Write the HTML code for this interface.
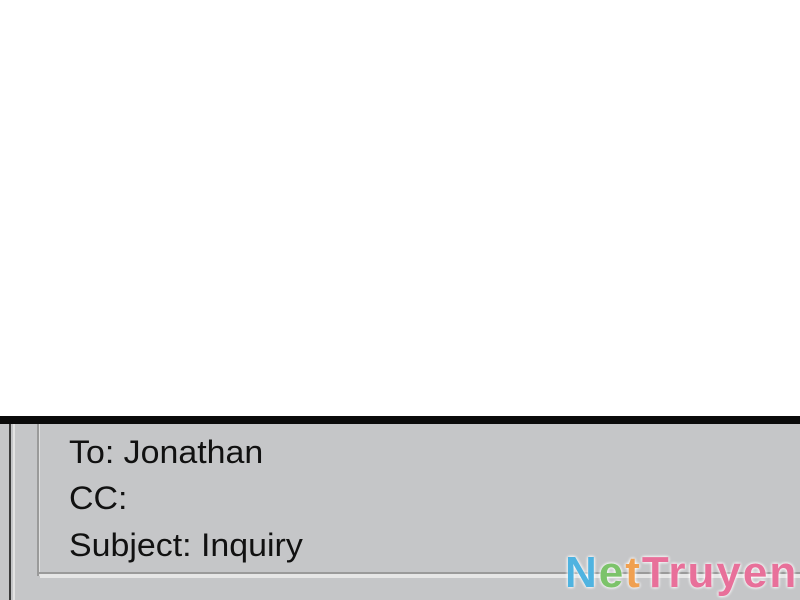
<!DOCTYPE html>
<html><head><style>
body{margin:0;width:800px;height:600px;overflow:hidden;background:#fff;position:relative;font-family:"Liberation Sans",sans-serif}
.bar{position:absolute;left:0;top:416px;width:800px;height:8px;background:#0a0a0a}
.grey{position:absolute;left:0;top:424px;width:800px;height:176px;background:#c5c6c8}
.l1{position:absolute;left:9px;top:424px;width:2px;height:176px;background:#3a3a3a}
.l2{position:absolute;left:13px;top:424px;width:2px;height:176px;background:#e2e2e2}
.l3{position:absolute;left:37px;top:424px;width:2px;height:152px;background:#9a9a9a}
.l4{position:absolute;left:39px;top:424px;width:1px;height:152px;background:#e0e0e0}
.b1{position:absolute;left:39px;top:572px;width:761px;height:2px;background:#9a9a9a}
.b2{position:absolute;left:40px;top:574px;width:760px;height:4px;background:#e6e6e6}
.t{position:absolute;left:69px;font-size:32px;color:#111;line-height:1;transform:scaleX(1.06);transform-origin:left top;letter-spacing:0}
.logo{position:absolute;left:565px;top:551px;font-size:44px;font-weight:bold;letter-spacing:2px;line-height:1;text-shadow:0 0 3px #fff,0 0 3px #fff}
</style></head><body>
<div class="bar"></div><div class="grey"></div>
<div class="l1"></div><div class="l2"></div><div class="l3"></div><div class="l4"></div>
<div class="b1"></div><div class="b2"></div>
<div class="t" style="top:436px">To: Jonathan</div>
<div class="t" style="top:482px">CC:</div>
<div class="t" style="top:529px">Subject: Inquiry</div>
<div class="logo"><span style="color:#4fb3e0">N</span><span style="color:#7cc36a">e</span><span style="color:#f0a050">t</span><span style="color:#e8709a">Truyen</span></div>
</body></html>
